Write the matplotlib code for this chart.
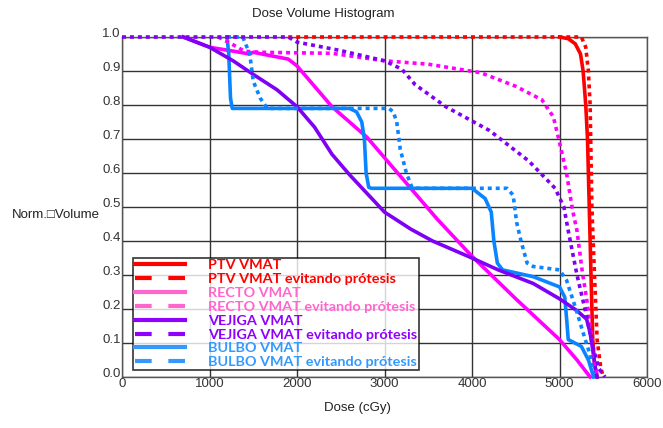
import matplotlib
matplotlib.use("Agg")
import matplotlib.pyplot as plt
from matplotlib.lines import Line2D

# ---- data (dose in cGy, normalized volume) ----
ptv_dose = [5000, 5100, 5180, 5240, 5270, 5300, 5320, 5340, 5360, 5380, 5400, 5430]
ptv_vol = [1.0, 0.995, 0.98, 0.95, 0.90, 0.80, 0.70, 0.50, 0.30, 0.11, 0.04, 0.0]

ptv_ev_dose = [1900, 5250, 5300, 5330, 5350, 5370, 5400, 5430, 5470, 5500]
ptv_ev_vol = [1.0, 1.0, 0.97, 0.90, 0.80, 0.50, 0.30, 0.11, 0.03, 0.0]

recto_dose = [700, 1000, 1350, 1450, 1500, 1900, 2000, 2400, 2800, 3200, 3600, 4000, 4500, 5000, 5200, 5350]
recto_vol = [1.0, 0.97, 0.955, 0.95, 0.955, 0.935, 0.915, 0.795, 0.705, 0.585, 0.465, 0.355, 0.23, 0.11, 0.05, 0.0]

recto_ev_dose = [1100, 1250, 1400, 1600, 2400, 3000, 3500, 4100, 4500, 4800, 4930, 5000, 5080, 5150, 5200, 5260, 5310, 5360, 5400, 5430]
recto_ev_vol = [1.0, 0.98, 0.958, 0.955, 0.952, 0.93, 0.92, 0.895, 0.855, 0.815, 0.765, 0.69, 0.60, 0.49, 0.43, 0.31, 0.23, 0.13, 0.06, 0.0]

vejiga_dose = [700, 1000, 1270, 1500, 1770, 2000, 2200, 2400, 2600, 2800, 3000, 3300, 3550, 4000, 4300, 4700, 5000, 5200, 5310, 5350, 5380, 5410, 5430]
vejiga_vol = [1.0, 0.97, 0.93, 0.89, 0.845, 0.795, 0.735, 0.655, 0.595, 0.54, 0.485, 0.435, 0.40, 0.35, 0.315, 0.275, 0.23, 0.195, 0.17, 0.13, 0.08, 0.025, 0.0]

vejiga_ev_dose = [0, 1900, 2000, 2500, 3000, 3200, 3350, 3700, 4200, 4650, 4950, 5050, 5100, 5200, 5300, 5380, 5450, 5520]
vejiga_ev_vol = [1.0, 1.0, 0.985, 0.96, 0.93, 0.905, 0.86, 0.795, 0.725, 0.635, 0.555, 0.50, 0.43, 0.30, 0.19, 0.09, 0.025, 0.0]

bulbo_dose = [1200, 1220, 1240, 1260, 2600, 2680, 2740, 2770, 2790, 2820, 2850, 4000, 4150, 4220, 4250, 4290, 4350, 4700, 5000, 5060, 5080, 5100, 5250, 5330, 5390]
bulbo_vol = [1.0, 0.95, 0.82, 0.79, 0.79, 0.78, 0.75, 0.70, 0.60, 0.558, 0.555, 0.555, 0.525, 0.485, 0.40, 0.335, 0.315, 0.295, 0.265, 0.235, 0.175, 0.11, 0.09, 0.05, 0.0]

bulbo_ev_dose = [1200, 1380, 1460, 1500, 1580, 1660, 3050, 3100, 3140, 3180, 3250, 3310, 3350, 4400, 4470, 4510, 4560, 4630, 4700, 5000, 5080, 5200, 5270, 5350, 5390]
bulbo_ev_vol = [1.0, 1.0, 0.95, 0.87, 0.82, 0.79, 0.79, 0.78, 0.75, 0.67, 0.60, 0.56, 0.555, 0.555, 0.535, 0.455, 0.40, 0.335, 0.325, 0.315, 0.285, 0.19, 0.13, 0.065, 0.0]

legend_labels = ["PTV VMAT", "PTV VMAT evitando prótesis",
                 "RECTO VMAT", "RECTO VMAT evitando prótesis",
                 "VEJIGA VMAT", "VEJIGA VMAT evitando prótesis",
                 "BULBO VMAT", "BULBO VMAT evitando prótesis"]

x_ticks = [0, 1000, 2000, 3000, 4000, 5000, 6000]
y_ticks = [0.0, 0.1, 0.2, 0.3, 0.4, 0.5, 0.6, 0.7, 0.8, 0.9, 1.0]

# ---- style ----
red = "#ff0000"
magenta = "#ff00ff"
purple = "#7f00f5"
blue = "#0a85ff"
leg_colors = ["#ff0000", "#ff0000", "#ff66cc", "#ff66cc", "#8f00ff", "#8f00ff", "#3399ff", "#3399ff"]

axis_font = ["Liberation Sans Narrow", "Liberation Sans", "DejaVu Sans"]

fig = plt.figure(figsize=(6.63, 4.28), dpi=100)
ax = fig.add_axes([122 / 663, 1 - 377 / 428, 525 / 663, 340 / 428])

dot = (0, (1.1, 1.1))
lw = 2.6
ax.plot(ptv_dose, ptv_vol, color=red, lw=lw, zorder=3, clip_on=False)
ax.plot(recto_dose, recto_vol, color=magenta, lw=lw, zorder=3, clip_on=False)
ax.plot(bulbo_dose, bulbo_vol, color=blue, lw=lw, zorder=3, clip_on=False)
ax.plot(vejiga_dose, vejiga_vol, color=purple, lw=lw, zorder=3, clip_on=False)
ax.plot(ptv_ev_dose, ptv_ev_vol, color=red, lw=lw, ls=dot, zorder=3, clip_on=False)
ax.plot(recto_ev_dose, recto_ev_vol, color=magenta, lw=lw, ls=dot, zorder=3, clip_on=False)
ax.plot(bulbo_ev_dose, bulbo_ev_vol, color=blue, lw=lw, ls=dot, zorder=3, clip_on=False)
ax.plot(vejiga_ev_dose, vejiga_ev_vol, color=purple, lw=lw, ls=dot, zorder=3, clip_on=False)

ax.set_xlim(0, 6000)
ax.set_ylim(0, 1.0)
ax.set_xticks(x_ticks)
ax.set_yticks(y_ticks)
ax.set_xticklabels([str(v) for v in x_ticks], family=axis_font, fontsize=9.5, color="#333333")
ax.set_yticklabels([f"{v:.1f}" for v in y_ticks], family=axis_font, fontsize=9.5,
                   color="#333333", va="baseline")
ax.tick_params(length=0, pad=1)
ax.grid(True, color="#333333", lw=1.0, zorder=1)
for s in ax.spines.values():
    s.set_color("#555555")
    s.set_linewidth(1.0)

fig.text(323 / 663, 1 - 14 / 428, "Dose Volume Histogram", ha="center", va="center",
         family=axis_font, fontsize=9.5, color="#222222")
fig.text(357 / 663, 1 - 408 / 428, "Dose (cGy)", ha="center", va="center",
         family=axis_font, fontsize=9.5, color="#222222")
fig.text(56 / 663, 1 - 215 / 428, "Norm.\u25a1Volume", ha="center", va="center",
         family=axis_font, fontsize=9.5, color="#222222")

handles = []
for i, c in enumerate(leg_colors):
    if i % 2 == 0:
        handles.append(Line2D([], [], color=c, lw=3))
    else:
        handles.append(Line2D([], [], color=c, lw=3, dashes=(4, 4)))

leg = ax.legend(handles, legend_labels, loc="lower left",
                bbox_to_anchor=(11 / 525, 7 / 340, 286 / 525, 113 / 340),
                mode="expand", borderaxespad=0, frameon=True, fancybox=False,
                handlelength=3.5, handletextpad=1.6, labelspacing=0.12,
                borderpad=0.12, prop={"family": ["Lato", "DejaVu Sans"], "weight": "bold", "size": 10.4})
leg.get_frame().set_edgecolor("black")
leg.get_frame().set_linewidth(1.2)
leg.set_zorder(5)
for t, c in zip(leg.get_texts(), leg_colors):
    t.set_color(c)

fig.savefig("out.png", dpi=100)
